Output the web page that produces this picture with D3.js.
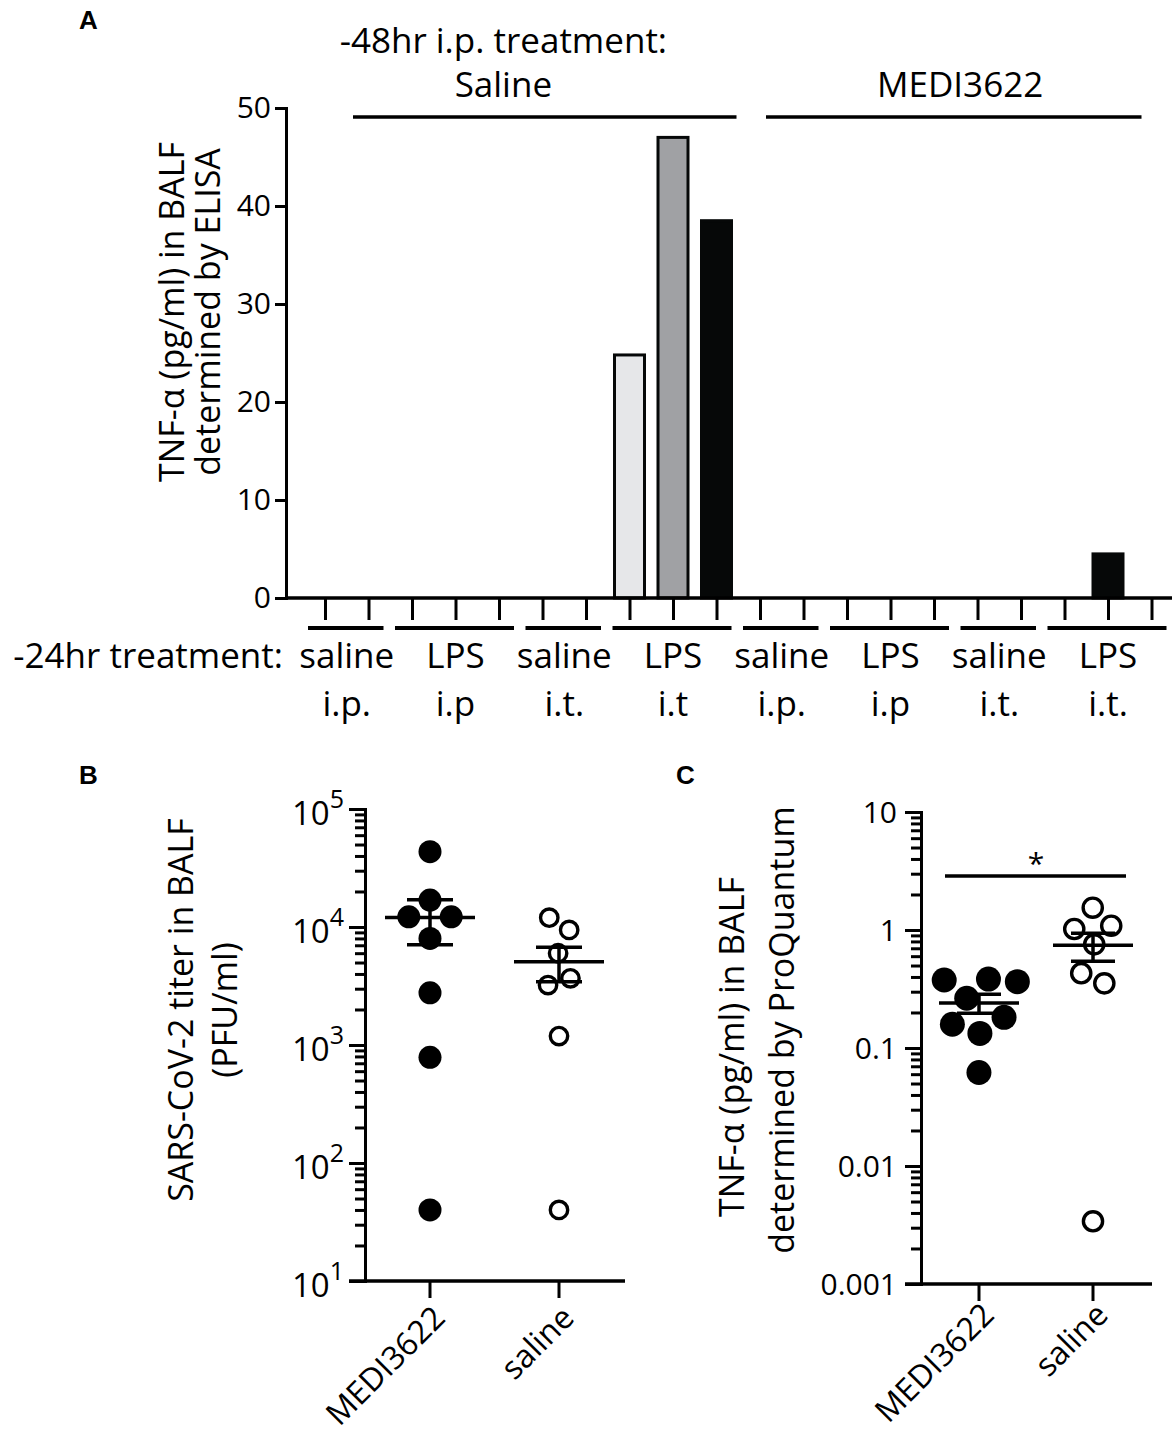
<!DOCTYPE html>
<html>
<head>
<meta charset="utf-8">
<script src="https://cdn.jsdelivr.net/npm/d3@7"></script>
<style>
  body { margin: 0; background: #fff; }
  text { font-family: "Open Sans", sans-serif; fill: #000; }
</style>
</head>
<body>
<svg id="fig" width="1175" height="1439"></svg>
<script>
// ---- panel A data ----
var groupTop = ["saline", "LPS", "saline", "LPS", "saline", "LPS", "saline", "LPS"]
var groupBottom = ["i.p.", "i.p", "i.t.", "i.t", "i.p.", "i.p", "i.t.", "i.t."]
var groupSizes = [2, 3, 2, 3, 2, 3, 2, 3]
var barValues = [0, 0, 0, 0, 0, 0, 0, 24.8, 47, 38.5, 0, 0, 0, 0, 0, 0, 0, 0, 4.5, 0]
var barShade = ["", "", "", "", "", "", "", "light", "mid", "dark", "", "", "", "", "", "", "", "", "dark", ""]
var pretreatNames = ["Saline", "MEDI3622"]
var yTicksA = [0, 10, 20, 30, 40, 50]

// ---- panel B / C data ----
var groupsBC = ["MEDI3622", "saline"]
var titerMEDI = [43500, 16900, 12200, 12200, 8000, 2770, 787, 40]
var titerSaline = [12000, 9440, 5990, 3670, 3220, 1190, 40]
var tnfMEDI = [0.377, 0.365, 0.384, 0.264, 0.159, 0.182, 0.133, 0.062]
var tnfSaline = [1.545, 1.087, 1.02, 0.756, 0.43, 0.353, 0.0034]

var shadeColor = { light: "#e6e7e9", mid: "#a0a1a4", dark: "#060808" }

var svg = d3.select("#fig")

function panelLabel(txt, x, y) {
    svg.append("text").attr("x", x).attr("y", y)
        .style("font-family", "'Liberation Sans', Arial, sans-serif")
        .style("font-weight", "bold").style("font-size", "26px")
        .text(txt)
}

function styleAxis(g, w) {
    g.selectAll("path, line").attr("stroke", "#000").attr("stroke-width", w)
    g.select(".domain").attr("stroke-linecap", "square")
}

// ================= Panel A =================
var yA = d3.scaleLinear().domain([0, 50]).range([598, 108])
var xA = d3.scaleLinear().domain([0, 19]).range([325, 1151.5])
var axisXA = 286

panelLabel("A", 79, 29)

var gA = svg.append("g")

// bars
gA.selectAll(".bar")
    .data(barValues.map(function (v, i) { return { v: v, i: i, shade: barShade[i] } }).filter(function (d) { return d.v > 0 }))
    .enter()
    .append("rect")
    .attr("class", "bar")
    .attr("x", function (d) { return xA(d.i) - 15 })
    .attr("width", 30)
    .attr("y", function (d) { return yA(d.v) })
    .attr("height", function (d) { return yA(0) - yA(d.v) })
    .attr("fill", function (d) { return shadeColor[d.shade] })
    .attr("stroke", "#060808")
    .attr("stroke-width", 3)

// y axis
var yAxisA = gA.append("g")
    .attr("transform", "translate(" + axisXA + ",0)")
    .call(d3.axisLeft(yA).tickValues(yTicksA).tickSize(11).tickSizeOuter(0).tickPadding(4))
styleAxis(yAxisA, 3)
yAxisA.selectAll("text").style("font-size", "30px").style("font-family", "'Open Sans', sans-serif")

// x axis (ticks only, long baseline)
var xAxisA = gA.append("g")
    .attr("transform", "translate(0," + yA(0) + ")")
    .call(d3.axisBottom(xA).tickValues(d3.range(20)).tickSize(22).tickFormat(""))
styleAxis(xAxisA, 3)
xAxisA.select(".domain").remove()
gA.append("line")
    .attr("x1", axisXA).attr("x2", 1172)
    .attr("y1", yA(0)).attr("y2", yA(0))
    .attr("stroke", "#000").attr("stroke-width", 3.5)

// group underlines and labels
var start = 0
groupSizes.forEach(function (n, gi) {
    var s = start, e = start + n - 1
    gA.append("line")
        .attr("x1", xA(s) - 17).attr("x2", xA(e) + 15)
        .attr("y1", 628).attr("y2", 628)
        .attr("stroke", "#000").attr("stroke-width", 4)
    var cx = (xA(s) + xA(e)) / 2
    gA.append("text").attr("x", cx).attr("y", 668)
        .attr("text-anchor", "middle").style("font-size", "35px").text(groupTop[gi])
    gA.append("text").attr("x", cx).attr("y", 716)
        .attr("text-anchor", "middle").style("font-size", "35px").text(groupBottom[gi])
    start += n
})
gA.append("text").attr("x", 283).attr("y", 668)
    .attr("text-anchor", "end").style("font-size", "35px").text("-24hr treatment:")

// pretreatment header
gA.append("text").attr("x", xA(4.1)).attr("y", 53)
    .attr("text-anchor", "middle").style("font-size", "35px").text("-48hr i.p. treatment:")
var preSpans = [[xA(0) + 28, xA(9) + 20], [xA(10) + 6, xA(19) - 10]]
var preLabelX = [xA(4.1), xA(14.6)]
pretreatNames.forEach(function (nm, i) {
    gA.append("line")
        .attr("x1", preSpans[i][0]).attr("x2", preSpans[i][1])
        .attr("y1", 117).attr("y2", 117)
        .attr("stroke", "#000").attr("stroke-width", 3.5)
    gA.append("text").attr("x", preLabelX[i]).attr("y", 97)
        .attr("text-anchor", "middle").style("font-size", "35px").text(nm)
})

// y title
gA.append("text")
    .attr("transform", "translate(171,312) rotate(-90)")
    .attr("text-anchor", "middle").attr("dominant-baseline", "central")
    .style("font-size", "34px").text("TNF-\u03B1 (pg/ml) in BALF")
gA.append("text")
    .attr("transform", "translate(207,312) rotate(-90)")
    .attr("text-anchor", "middle").attr("dominant-baseline", "central")
    .style("font-size", "34px").text("determined by ELISA")

// ================= scatter helpers =================
function logTicks(lo, hi) {
    var out = []
    for (var e = Math.round(Math.log10(lo)); e < Math.round(Math.log10(hi)); e++) {
        for (var m = 1; m < 10; m++) out.push(+(m * Math.pow(10, e)).toPrecision(3))
    }
    out.push(hi)
    return out
}
function isDecade(v) {
    var l = Math.log10(v)
    return Math.abs(l - Math.round(l)) < 1e-6
}

// spread points sideways so they don't pile up (y stays fixed at the value)
function swarm(values, y, cx, rCollide) {
    var nodes = values.map(function (v) { return { v: v, x: cx, y: y(v), fy: y(v) } })
    var sim = d3.forceSimulation(nodes)
        .force("x_force", d3.forceX(cx).strength(0.04))
        .force("collision", d3.forceCollide(rCollide).iterations(4))
        .stop()
    for (var i = 0; i < 300; i++) sim.tick()
    return nodes
}

function meanSem(values) {
    var m = d3.mean(values)
    var sem = d3.deviation(values) / Math.sqrt(values.length)
    return { mean: m, lo: m - sem, hi: m + sem }
}

function scatterPanel(opt) {
    var g = svg.append("g")
    var y = d3.scaleLog().domain(opt.domain).range([opt.bottom, opt.top])
    var x = d3.scalePoint().domain(groupsBC).range(opt.xr)

    // y axis with major/minor ticks
    var ya = g.append("g")
        .attr("transform", "translate(" + opt.axisX + ",0)")
        .call(d3.axisLeft(y).tickValues(logTicks(opt.domain[0], opt.domain[1])).tickSizeOuter(0).tickFormat(""))
    styleAxis(ya, 3)
    ya.selectAll(".tick line").attr("x2", function (d) { return isDecade(d) ? -16 : -10 })

    // decade labels
    var decades = y.ticks().filter(isDecade)
    decades.forEach(function (d) { opt.label(g, y(d), d) })

    // x axis
    g.append("line")
        .attr("x1", opt.axisX - 16).attr("x2", opt.xEnd)
        .attr("y1", opt.bottom).attr("y2", opt.bottom)
        .attr("stroke", "#000").attr("stroke-width", 3.5)
    groupsBC.forEach(function (name) {
        g.append("line")
            .attr("x1", x(name)).attr("x2", x(name))
            .attr("y1", opt.bottom).attr("y2", opt.bottom + 17)
            .attr("stroke", "#000").attr("stroke-width", 3)
        g.append("text")
            .attr("transform", "translate(" + (x(name) + 8) + "," + (opt.bottom + opt.labelDrop) + ") rotate(-45)")
            .attr("text-anchor", "end").attr("dominant-baseline", "central")
            .style("font-size", "32px").text(name)
    })

    // points
    var series = [opt.medi, opt.saline]
    series.forEach(function (vals, si) {
        var cx = x(groupsBC[si])
        var filled = si === 0
        var r = filled ? opt.rFill : opt.rOpen
        var nodes = swarm(vals, y, cx, filled ? opt.rFill + 2 : opt.rOpen + 3)
        g.selectAll(null)
            .data(nodes)
            .enter()
            .append("circle")
            .attr("cx", function (d) { return d.x })
            .attr("cy", function (d) { return d.y })
            .attr("r", r)
            .attr("fill", filled ? "#000" : "none")
            .attr("stroke", filled ? "none" : "#000")
            .attr("stroke-width", 3.4)

        // mean +- SEM
        var st = meanSem(vals)
        var lines = [
            [cx - opt.meanW, y(st.mean), cx + opt.meanW, y(st.mean)],
            [cx, y(st.hi), cx, y(st.lo)],
            [cx - opt.capW, y(st.hi), cx + opt.capW, y(st.hi)],
            [cx - opt.capW, y(st.lo), cx + opt.capW, y(st.lo)]
        ]
        g.selectAll(null)
            .data(lines)
            .enter()
            .append("line")
            .attr("x1", function (d) { return d[0] })
            .attr("y1", function (d) { return d[1] })
            .attr("x2", function (d) { return d[2] })
            .attr("y2", function (d) { return d[3] })
            .attr("stroke", "#000").attr("stroke-width", 3.5)
    })

    // titles
    opt.titles.forEach(function (t, i) {
        g.append("text")
            .attr("transform", "translate(" + opt.titleX[i] + "," + opt.titleY[i] + ") rotate(-90)")
            .attr("text-anchor", "middle").attr("dominant-baseline", "central")
            .style("font-size", "34px").text(t)
    })
    return { g: g, x: x, y: y }
}

// ================= Panel B =================
panelLabel("B", 79, 784)
scatterPanel({
    domain: [10, 1e5], bottom: 1281, top: 809, axisX: 365, xEnd: 625, xr: [430, 559],
    medi: titerMEDI, saline: titerSaline, labelDrop: 30,
    rFill: 11.5, rOpen: 8.7, meanW: 45, capW: 23,
    titles: ["SARS-CoV-2 titer in BALF", "(PFU/ml)"], titleX: [180, 224], titleY: [1010, 1010],
    label: function (g, py, d) {
        var t = g.append("text")
            .attr("x", 344).attr("y", py + 16)
            .attr("text-anchor", "end").style("font-size", "33px")
        t.append("tspan").text("10")
        t.append("tspan").attr("dy", -17).style("font-size", "25px").text(Math.round(Math.log10(d)))
    }
})

// ================= Panel C =================
panelLabel("C", 676, 784)
var pc = scatterPanel({
    domain: [0.001, 10], bottom: 1284, top: 812, axisX: 921, xEnd: 1152, xr: [979, 1093],
    medi: tnfMEDI, saline: tnfSaline, labelDrop: 24,
    rFill: 12.5, rOpen: 9.6, meanW: 40, capW: 22,
    titles: ["TNF-\u03B1 (pg/ml) in BALF", "determined by ProQuantum"], titleX: [731, 781], titleY: [1047, 1030],
    label: function (g, py, d) {
        g.append("text")
            .attr("x", 897).attr("y", py)
            .attr("text-anchor", "end").attr("dy", "0.36em")
            .style("font-size", "30px")
            .text(d3.format("~g")(d))
    }
})

// significance bar
pc.g.append("line")
    .attr("x1", pc.x("MEDI3622") - 34).attr("x2", pc.x("saline") + 33)
    .attr("y1", 876).attr("y2", 876)
    .attr("stroke", "#000").attr("stroke-width", 3.5)
pc.g.append("text")
    .attr("x", (pc.x("MEDI3622") + pc.x("saline")) / 2).attr("y", 874)
    .attr("text-anchor", "middle").style("font-size", "30px").text("*")
</script>
</body>
</html>
